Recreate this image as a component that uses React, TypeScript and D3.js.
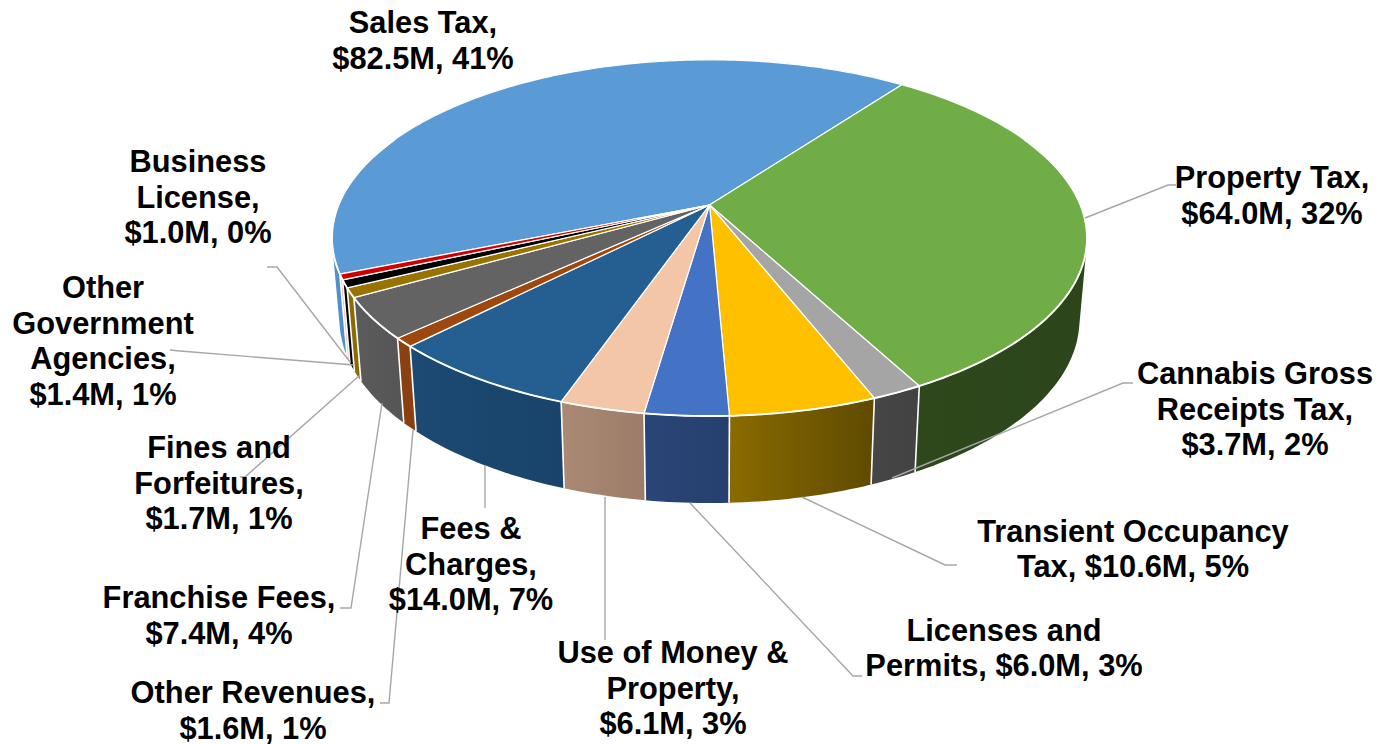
import React from "react";
import * as D3 from "d3";

const categories = ["Sales Tax","Property Tax","Cannabis Gross Receipts Tax","Transient Occupancy Tax","Licenses and Permits","Use of Money & Property","Fees & Charges","Other Revenues","Franchise Fees","Fines and Forfeitures","Other Government Agencies","Business License"];
const values = [82.5,64.0,3.7,10.6,6.0,6.1,14.0,1.6,7.4,1.7,1.4,1.0];
const topColors = ["#5b9bd5","#70ad47","#a5a5a5","#ffc000","#4472c4","#f4c6a8","#255e91","#9e480e","#636363","#997300","#000000","#d00000"];
const wallLeft = ["#4f90cc","#2e481c","#464646","#8a6b00","#2a4577","#aa8a75","#1c4a73","#8a4010","#5c5c5c","#8a6b00","#000000","#eda6a6"];
const wallRight = ["#4f90cc","#2c451b","#424242","#5f4a00","#263f6e","#9c7c68","#19436a","#8a4010","#555555","#8a6b00","#000000","#eda6a6"];

const labelLines = [
  ["Sales Tax,","$82.5M, 41%"],
  ["Property Tax,","$64.0M, 32%"],
  ["Cannabis Gross","Receipts Tax,","$3.7M, 2%"],
  ["Transient Occupancy","Tax, $10.6M, 5%"],
  ["Licenses and","Permits, $6.0M, 3%"],
  ["Use of Money &","Property,","$6.1M, 3%"],
  ["Fees &","Charges,","$14.0M, 7%"],
  ["Other Revenues,","$1.6M, 1%"],
  ["Franchise Fees,","$7.4M, 4%"],
  ["Fines and","Forfeitures,","$1.7M, 1%"],
  ["Other","Government","Agencies,","$1.4M, 1%"],
  ["Business","License,","$1.0M, 0%"],
];
const labelAnchors: [number, number][] = [[423,33],[1272,188],[1255,384],[1133,541.5],[1004,640.5],[673,663],[471,539],[253,703],[219,608],[219,458],[103,298],[198,172]];
const leaders: ([number, number][] | null)[] = [
  null,
  [[1085,218],[1168,185],[1176,185]],
  [[892,478],[1123,383],[1133,383]],
  [[802,497],[945,565],[957,565]],
  [[690,503],[853,676],[862,676]],
  [[605,497],[605,640]],
  [[485,465],[485,508]],
  [[413,430],[389,703],[380,703]],
  [[382,403],[351,608],[340,608]],
  [[360,375],[245,477],[240,477]],
  [[354,365],[180,351],[170,350]],
  [[350,362],[277,267],[267,267]],
];

const START_DEG = -111.95;
const CX = 709.5, CY = 205, A = 371, B = 172, K = 0.185;

function topPt(t: number): [number, number] {
  const X = Math.sin(t), Y = -Math.cos(t), w = 1 - K * Y;
  return [CX + (A * X) / w, CY + (B * Y) / w];
}
function botPt(t: number): [number, number] {
  const [x, y] = topPt(t);
  return [CX + 0.98 * (x - CX), 503 + 1.03 * (y - 416)];
}
function pathOf(pts: [number, number][], close = true) {
  return "M" + pts.map((p) => p[0].toFixed(2) + "," + p[1].toFixed(2)).join("L") + (close ? "Z" : "");
}
function samples(a: number, b: number) {
  const n = Math.max(2, Math.ceil(((b - a) * 180) / Math.PI));
  return D3.range(n + 1).map((i) => a + ((b - a) * i) / n);
}
function wallPath(a: number, b: number) {
  const ts = samples(a, b);
  let d = "";
  for (let i = 0; i < ts.length - 1; i++) {
    let q = [topPt(ts[i]), topPt(ts[i + 1]), botPt(ts[i + 1]), botPt(ts[i])] as [number, number][];
    if (D3.polygonArea(q) < 0) q = q.reverse();
    d += pathOf(q);
  }
  return d;
}
function facesViewer(t: number) {
  return -Math.cos(t) > -0.42;
}

export default function App() {
  const start = (START_DEG * Math.PI) / 180;
  const arcs = D3.pie<number>().sort(null).value((d) => d).startAngle(start).endAngle(start + 2 * Math.PI)(values);
  const grey = "#a6a6a6";
  const nearRim = samples(start - 0.02, start + 2 * Math.PI).filter((t) => {
    const c = -Math.cos(t);
    return c > -0.42;
  });
  return (
    <svg width={1378} height={744} style={{ position: "absolute", left: 0, top: 0, background: "#fff" }}>
      <defs>
        {arcs.map((s, i) => (
          <linearGradient key={i} id={"w" + i} x1="0" x2="1" y1="0" y2="0">
            <stop offset="0" stopColor={wallLeft[i]} />
            <stop offset="1" stopColor={wallRight[i]} />
          </linearGradient>
        ))}
      </defs>
      <g>
        {arcs.map((s, i) => (
          <path key={i} d={wallPath(s.startAngle, s.endAngle)} fill={`url(#w${i})`} />
        ))}
        {arcs.map((s, i) =>
          facesViewer(s.startAngle) ? (
            <line key={i} x1={topPt(s.startAngle)[0]} y1={topPt(s.startAngle)[1]} x2={botPt(s.startAngle)[0]} y2={botPt(s.startAngle)[1]} stroke="#fff" strokeWidth={1.6} />
          ) : null
        )}
      </g>
      <g>
        {arcs.map((s, i) => (
          <path
            key={i}
            d={pathOf([[CX, CY], ...samples(s.startAngle, s.endAngle).map(topPt)])}
            fill={topColors[i]}
            stroke="#fff"
            strokeWidth={1.2}
            strokeLinejoin="round"
          />
        ))}
        <path d={pathOf(D3.range(0, 361).map((d) => topPt((d * Math.PI) / 180)).filter((p, j) => -Math.cos((j * Math.PI) / 180) > -0.42), false)} fill="none" stroke="#fff" strokeWidth={1.9} />
      </g>
      <g fill="none" stroke={grey} strokeWidth={1.4}>
        {leaders.map((l, i) => (l ? <path key={i} d={pathOf(l, false)} /> : null))}
      </g>
      <g fontFamily="'Liberation Sans', Arial, sans-serif" fontWeight="bold" fontSize={30.8} fill="#000" textAnchor="middle">
        {labelLines.map((lines, i) => (
          <text key={categories[i]} x={labelAnchors[i][0]} y={labelAnchors[i][1]}>
            {lines.map((t, j) => (
              <tspan key={j} x={labelAnchors[i][0]} dy={j === 0 ? 0 : 35.5}>
                {t}
              </tspan>
            ))}
          </text>
        ))}
      </g>
    </svg>
  );
}
